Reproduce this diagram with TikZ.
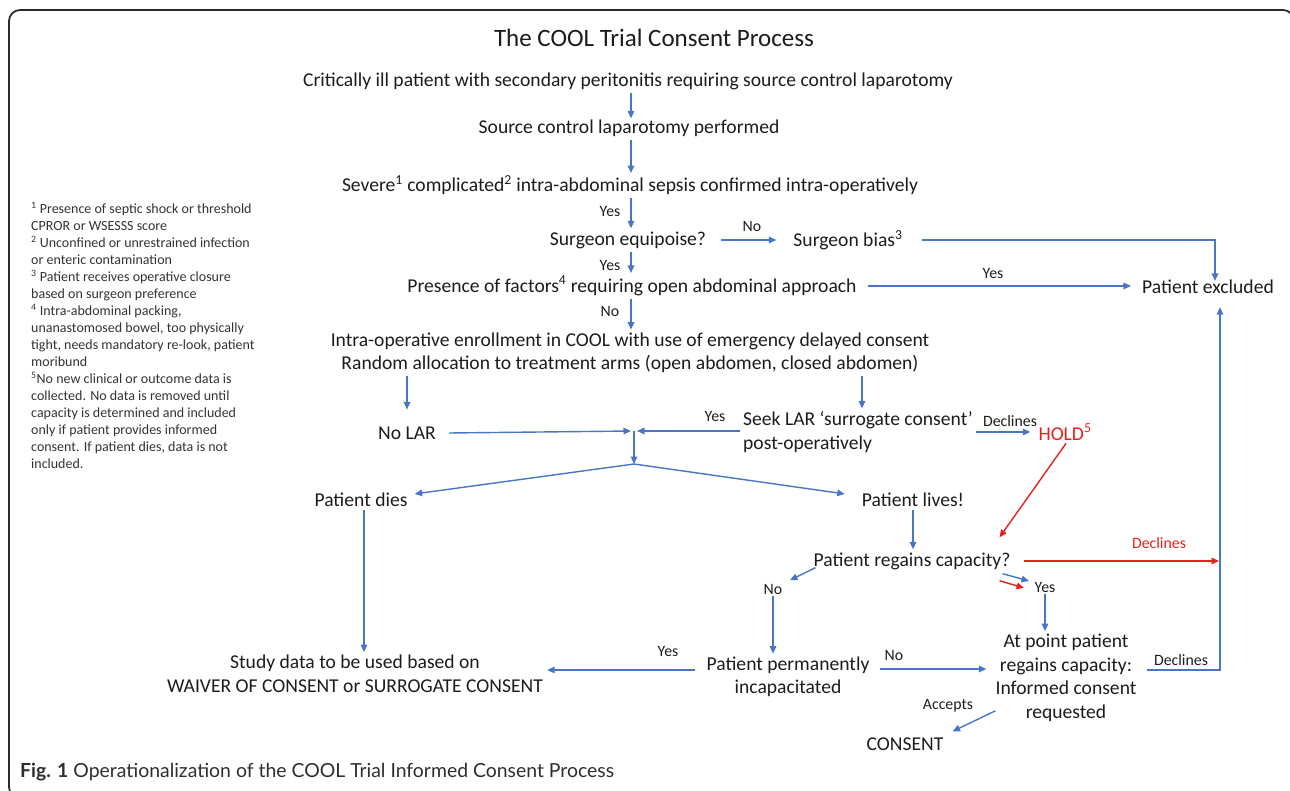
\documentclass[tikz,border=0pt]{standalone}
\usepackage{fontspec}
\setmainfont{Carlito}
\newfontfamily\capfont{Lato}
\usetikzlibrary{arrows.meta,calc}
\definecolor{ablue}{HTML}{4A74C4}
\definecolor{ared}{HTML}{E8201C}
\definecolor{txt}{HTML}{1C1C1C}
\definecolor{frm}{HTML}{2B2B2B}
\begin{document}
\begin{tikzpicture}[x=1pt,y=-1pt,
  every node/.style={text=txt, inner sep=3pt},
  main/.style={font=\fontsize{19.6}{23.5}\selectfont},
  lbl/.style={font=\fontsize{15.8}{18}\selectfont, inner sep=1.5pt},
  arr/.style={draw=ablue, line width=1.4pt, -{Triangle[length=7.5pt,width=6.5pt]}},
  rarr/.style={draw=ared, line width=1.4pt, -{Triangle[length=7.5pt,width=6.5pt]}},
  ]
\useasboundingbox (0,0) rectangle (1290,791);
\draw[frm, line width=1.8pt, rounded corners=11pt] (9,10) rectangle (1294,798);

% footnotes
\node[anchor=north west, align=left, inner sep=0pt, text=txt!90,
      font=\fontsize{14}{17}\selectfont] (notes) at (31,202) {%
\textsuperscript{1} Presence of septic shock or threshold\\
CPROR or WSESSS score\\
\textsuperscript{2} Unconfined or unrestrained infection\\
or enteric contamination\\
\textsuperscript{3} Patient receives operative closure\\
based on surgeon preference\\
\textsuperscript{4} Intra-abdominal packing,\\
unanastomosed bowel, too physically\\
tight, needs mandatory re-look, patient\\
moribund\\
\textsuperscript{5}No new clinical or outcome data is\\
collected. No data is removed until\\
capacity is determined and included\\
only if patient provides informed\\
consent. If patient dies, data is not\\
included.};

% main nodes
\node[font=\fontsize{25}{30}\selectfont] (title) at (654,38) {The COOL Trial Consent Process};
\node[main] (crit) at (628,81) {Critically ill patient with secondary peritonitis requiring source control laparotomy};
\node[main] (src) at (629,128) {Source control laparotomy performed};
\node[main] (sev) at (630,185) {Severe\textsuperscript{1} complicated\textsuperscript{2} intra-abdominal sepsis confirmed intra-operatively};
\node[main] (equi) at (628,240) {Surgeon equipoise?};
\node[main] (bias) at (848,240) {Surgeon bias\textsuperscript{3}};
\node[main] (fact) at (632,286) {Presence of factors\textsuperscript{4} requiring open abdominal approach};
\node[main] (excl) at (1208,287) {Patient excluded};
\node[main, align=center] (enr) at (630,353) {Intra-operative enrollment in COOL with use of emergency delayed consent\\Random allocation to treatment arms (open abdomen, closed abdomen)};
\node[main] (nolar) at (407,433) {No LAR};
\node[main, align=left, anchor=west] (seek) at (740,432) {Seek LAR ‘surrogate consent’\\post-operatively};
\node[main, text=ared] (hold) at (1065,432) {HOLD\textsuperscript{5}};
\node[main] (dies) at (361,500) {Patient dies};
\node[main] (lives) at (913,500) {Patient lives!};
\node[main] (regain) at (912,561) {Patient regains capacity?};
\node[main, align=center] (perm) at (788,677) {Patient permanently\\incapacitated};
\node[main, align=center] (atp) at (1066,678) {At point patient\\regains capacity:\\Informed consent\\requested};
\node[main, align=center] (study) at (355,674) {Study data to be used based on\\WAIVER OF CONSENT or SURROGATE CONSENT};
\node[main] (consent) at (905,744) {CONSENT};

% labels
\node[lbl] (yes1) at (610,211) {Yes};
\node[lbl] (no1) at (752,226) {No};
\node[lbl] (yes2) at (610,265) {Yes};
\node[lbl] (yes3) at (993,273) {Yes};
\node[lbl] (no2) at (610,311) {No};
\node[lbl] (yes4) at (715,416) {Yes};
\node[lbl] (decl1) at (1010,421) {Declines};
\node[lbl, text=ared] (decl2) at (1159,543) {Declines};
\node[lbl] (noR) at (773,589) {No};
\node[lbl] (yesR) at (1045,587) {Yes};
\node[lbl] (no3) at (894,655) {No};
\node[lbl] (yes5) at (668,651) {Yes};
\node[lbl] (decl3) at (1181,660) {Declines};
\node[lbl] (acc) at (948,706) {Accepts};

% caption
\node[anchor=west, inner sep=0pt, text=txt!92, font=\capfont\fontsize{19.4}{23}\selectfont] (cap) at (20,772)
  {\textbf{Fig. 1} Operationalization of the COOL Trial Informed Consent Process};

% helper coordinates
\coordinate (sp) at (631,0);
\coordinate (J) at (634,431);
\coordinate (K) at (634,464);
\coordinate (rv) at (1220,0);
\coordinate (sx) at (862,0);
\coordinate (lx) at (913,0);
\coordinate (dx) at (364,0);

% connectors
\draw[arr] (crit.south -| sp) -- ([yshift=-2pt]src.north -| sp);
\draw[arr] (src.south -| sp) -- ([yshift=-1pt]sev.north -| sp);
\draw[arr] (sev.south -| sp) -- (equi.north -| sp);
\draw[arr] ([xshift=12pt]equi.east) -- ([xshift=-14pt]bias.west);
\draw[arr] ([xshift=16pt]bias.east) -| ([xshift=7pt,yshift=-4pt]excl.north);
\draw[arr] (equi.south -| sp) -- (fact.north -| sp);
\draw[arr] ([xshift=8pt]fact.east) -- ([xshift=-8pt]excl.west |- fact.east);
\draw[arr] (fact.south -| sp) -- (enr.north -| sp);
\draw[arr] (enr.south -| nolar) -- ([yshift=14pt]nolar.north);
\draw[arr] (enr.south -| sx) -- (seek.north -| sx);
\draw[arr] ([xshift=10pt]nolar.east) -- ([xshift=-3pt]J);
\draw[arr] (seek.west |- J) -- ([xshift=3pt]J);
\draw[arr] (J) -- (K);
\draw[arr] (K) -- ([xshift=4pt,yshift=-4pt]dies.north east);
\draw[arr] (K) -- ([xshift=-14pt,yshift=-4pt]lives.north west);
\draw[arr] (seek.east) -- ([xshift=-5pt]hold.west);
\draw[rarr] ([xshift=1pt]hold.south) -- ([xshift=-14pt,yshift=12pt]regain.north east);
\draw[arr] (lives.south -| lx) -- (regain.north -| lx);
\draw[rarr] ([xshift=10pt]regain.east) -- ([xshift=-1pt]regain.east -| rv);
\draw[arr] ([xshift=7pt,yshift=8pt]atp.east) -| ([xshift=12pt,yshift=-10pt]excl.south);
\draw[arr] ([xshift=5pt,yshift=5pt]regain.south west) -- ([xshift=6pt,yshift=2pt]noR.north east);
\draw[arr] ([xshift=-11pt,yshift=-1pt]regain.south east) -- ([xshift=-4pt,yshift=6pt]yesR.west);
\draw[rarr] ([xshift=-14pt,yshift=-8pt]regain.south east) -- ([xshift=-9pt,yshift=-1pt]yesR.west);
\draw[arr] (noR.south) -- (perm.north -| noR);
\draw[arr] (yesR.south) -- (atp.north -| yesR);
\draw[arr] ([xshift=7pt,yshift=8pt]perm.east) -- ([xshift=-6pt,yshift=8pt]perm.east -| atp.west);
\draw[arr] ([xshift=-8pt,yshift=7pt]perm.west) -- ([xshift=1pt,yshift=7pt]perm.west -| study.east);
\draw[arr] (dies.south -| dx) -- (study.north -| dx);
\draw[arr] ([xshift=3pt,yshift=14pt]atp.south west) -- ([xshift=6pt,yshift=3pt]consent.north east);
\end{tikzpicture}
\end{document}
